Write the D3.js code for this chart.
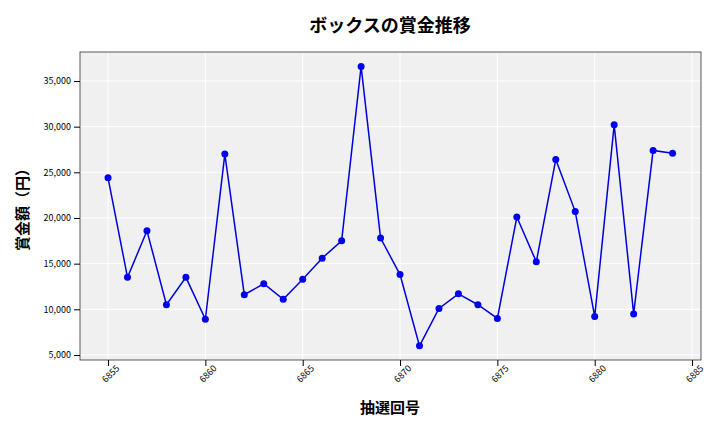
<!DOCTYPE html>
<html><head><meta charset="utf-8">
<script src="https://cdn.jsdelivr.net/npm/d3@7/dist/d3.min.js"></script>
<style>body{margin:0;background:#fff}text{font-family:"Noto Sans CJK JP","Noto Sans",sans-serif}</style>
</head><body><svg id="c" width="720" height="432"></svg>
<script>
const draws=[6855,6856,6857,6858,6859,6860,6861,6862,6863,6864,6865,6866,6867,6868,6869,6870,6871,6872,6873,6874,6875,6876,6877,6878,6879,6880,6881,6882,6883,6884];
const prizes=[24400,13500,18600,10500,13500,8900,27000,11600,12800,11100,13300,15600,17500,36600,17800,13800,6000,10100,11700,10500,9000,20100,15200,26400,20700,9200,30200,9500,27400,27100];
const xTicks=[6855,6860,6865,6870,6875,6880,6885];
const yTicks=[5000,10000,15000,20000,25000,30000,35000];
const svg=d3.select("#c");
const L=80,R=701,T=52,B=360;
const x=d3.scaleLinear().domain([6853.56,6885.46]).range([L,R]);
const y=d3.scaleLinear().domain([4450,38175]).range([B,T]);
svg.append("rect").attr("x",L).attr("y",T).attr("width",R-L).attr("height",B-T).attr("fill","#f0f0f0");
const g=svg.append("g");
g.selectAll(".gx").data(xTicks).join("line").attr("x1",d=>x(d)).attr("x2",d=>x(d)).attr("y1",T).attr("y2",B).attr("stroke","#fff").attr("stroke-width",1);
g.selectAll(".gy").data(yTicks).join("line").attr("x1",L).attr("x2",R).attr("y1",d=>y(d)).attr("y2",d=>y(d)).attr("stroke","#fff").attr("stroke-width",1);
svg.append("rect").attr("x",L).attr("y",T).attr("width",R-L).attr("height",B-T).attr("fill","none").attr("stroke","#333").attr("stroke-width",0.8);
const xa=svg.append("g").attr("transform",`translate(0,${B})`).call(d3.axisBottom(x).tickValues(xTicks).tickFormat(d3.format("d")).tickSizeOuter(0));
xa.select(".domain").remove();
xa.selectAll("text").attr("font-size",9).attr("fill","#000").attr("text-anchor","end").attr("dx","0.2em").attr("dy","0.6em").attr("transform","rotate(-45)");
const ya=svg.append("g").attr("transform",`translate(${L},0)`).call(d3.axisLeft(y).tickValues(yTicks).tickFormat(d3.format(",")).tickSizeOuter(0));
ya.select(".domain").remove();
ya.selectAll("text").attr("font-size",9).attr("fill","#000");
svg.append("path").datum(draws.map((d,i)=>[d,prizes[i]])).attr("fill","none").attr("stroke","#0000dd").attr("stroke-width",1.5)
 .attr("d",d3.line().x(d=>x(d[0])).y(d=>y(d[1])));
svg.selectAll(".pt").data(draws).join("circle").attr("cx",d=>x(d)).attr("cy",(d,i)=>y(prizes[i])).attr("r",3.5).attr("fill","#0000ee");
svg.append("text").attr("x",390).attr("y",32).attr("text-anchor","middle").attr("font-size",18).attr("font-weight","bold").text("ボックスの賞金推移");
svg.append("text").attr("x",390).attr("y",413).attr("text-anchor","middle").attr("font-size",15).attr("font-weight","bold").text("抽選回号");
svg.append("text").attr("transform","translate(28,206) rotate(-90)").attr("text-anchor","middle").attr("font-size",15).attr("font-weight","bold").text("賞金額（円）");
</script></body></html>
